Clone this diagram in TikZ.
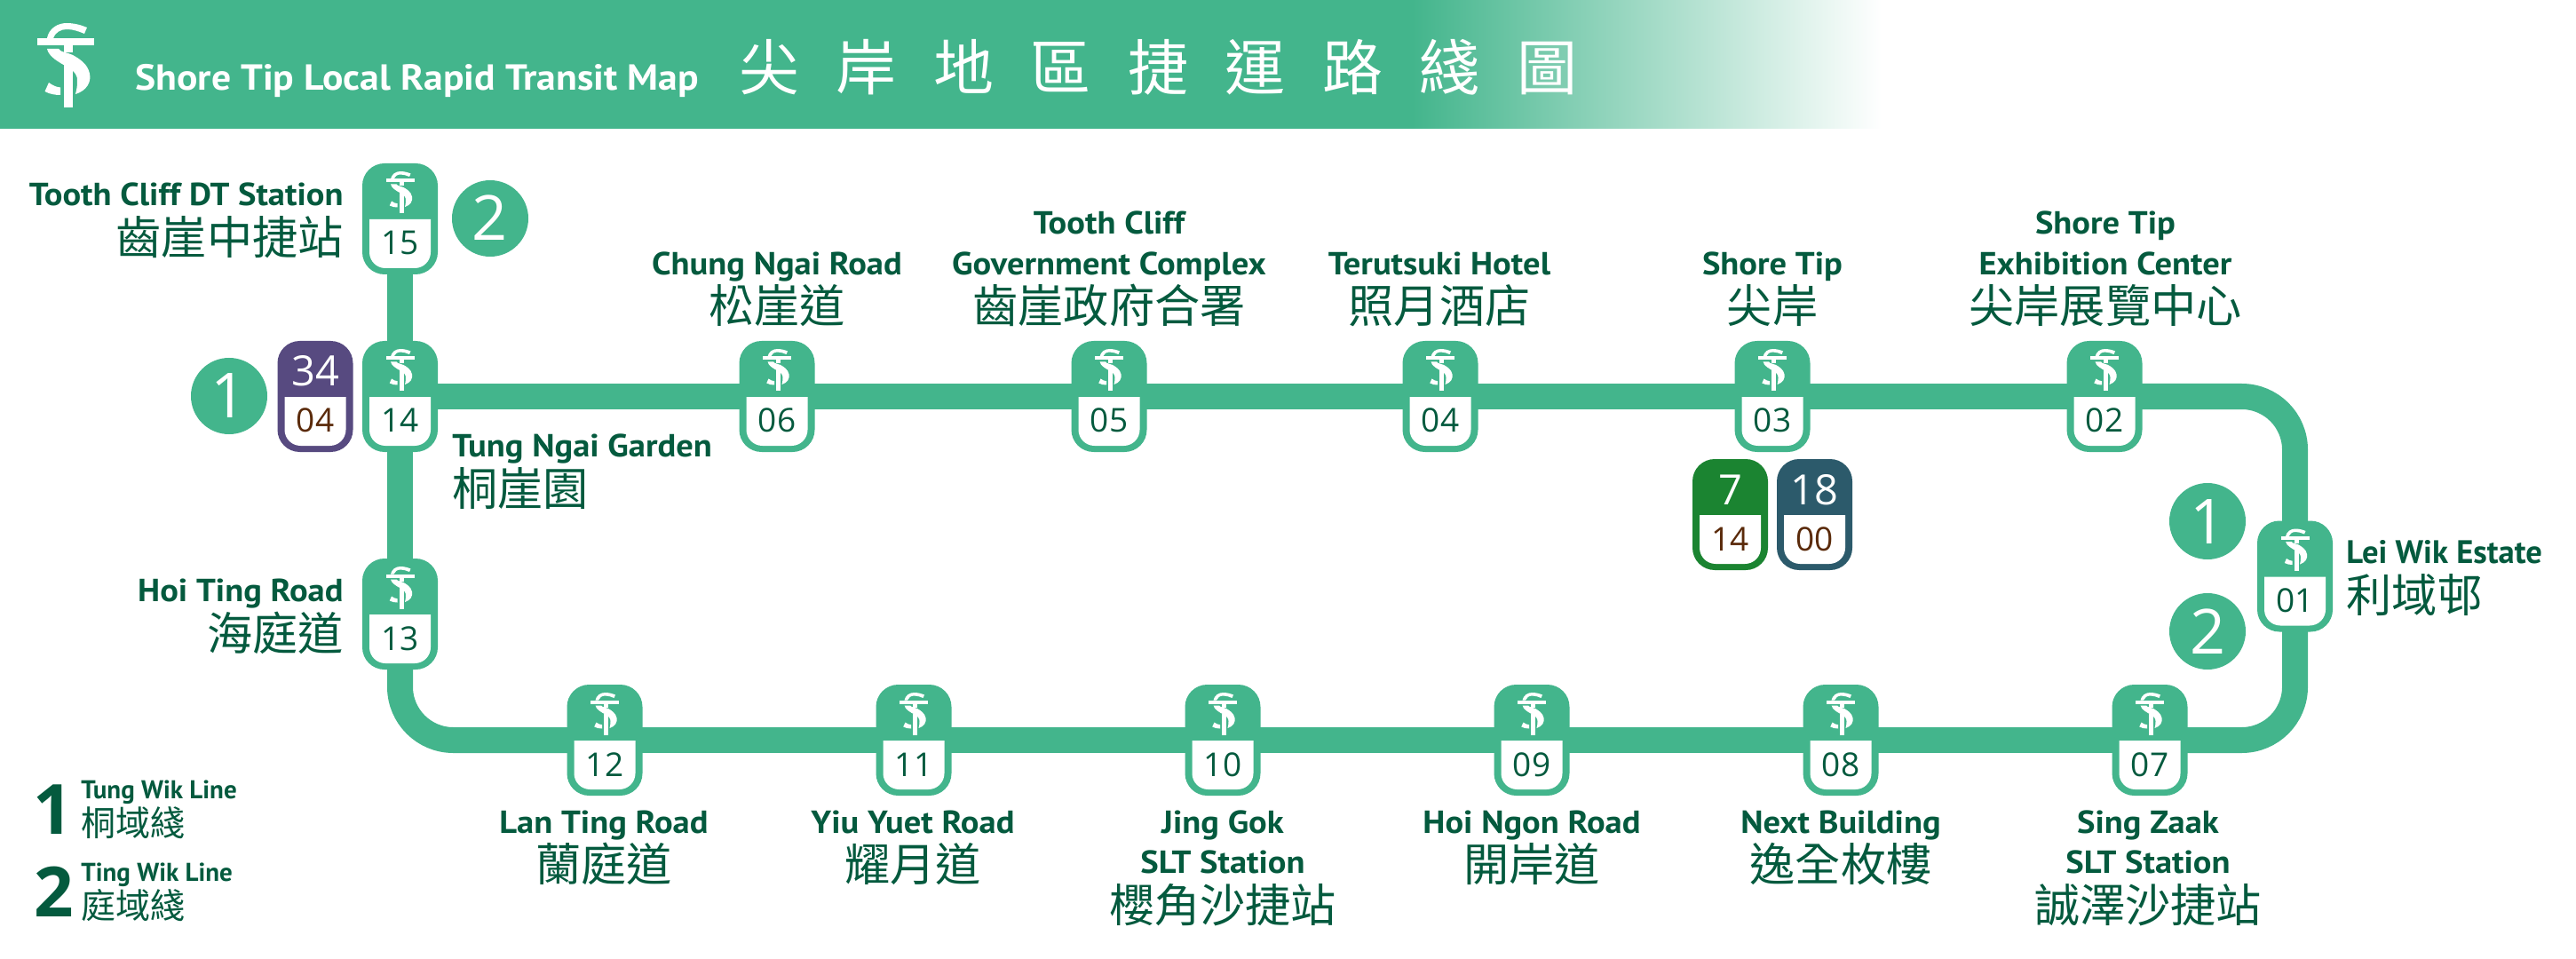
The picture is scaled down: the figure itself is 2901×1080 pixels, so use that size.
\documentclass[tikz,border=0pt]{standalone}
\usepackage{fontspec}
\usetikzlibrary{backgrounds}
\setmainfont{PT Sans}
\newfontfamily\numfont{Open Sans}
\newfontfamily\enfont{PT Sans}[BoldFont={PT Sans Bold},BoldFeatures={FakeStretch=1.07}]
\newfontfamily\ensmfont{PT Sans}[BoldFont={PT Sans Bold}]
\newfontfamily\zhfont{Noto Sans CJK TC}
\newfontfamily\zhtitle[LetterSpace=61]{Noto Sans CJK TC}
\definecolor{lineg}{HTML}{43B58C}
\definecolor{darkg}{HTML}{045A3E}
\definecolor{brownn}{HTML}{5A2A0A}
\definecolor{purp}{HTML}{574A80}
\definecolor{greenb}{HTML}{1B8431}
\definecolor{tealb}{HTML}{2C5A6B}
\newcommand{\fs}[1]{\fontsize{#1}{#1}\selectfont}
\tikzset{
  railline/.style={draw=lineg,line width=14.5pt,line cap=butt},
  boxnode/.style={minimum width=42.5pt,minimum height=62.5pt,rounded corners=12.5pt,inner sep=0pt,fill=#1},
  numt/.style={inner sep=0pt,anchor=base,font=\numfont\fs{18.5},text=#1},
  topt/.style={inner sep=0pt,anchor=base,font=\numfont\fs{23.5},text=white},
  circ/.style={circle,fill=lineg,minimum size=43pt,inner sep=0pt},
  circt/.style={inner sep=0pt,anchor=base,font=\numfont\fs{35},text=white},
  en/.style={inner sep=0pt,text=darkg,font=\enfont\bfseries\fs{18}},
  zh/.style={inner sep=0pt,text=darkg,font=\zhfont\fs{25.6}},
  ensm/.style={inner sep=0pt,text=darkg,font=\ensmfont\bfseries\fs{14.5}},
  zhsm/.style={inner sep=0pt,text=darkg,font=\zhfont\fs{19.5}},
  legnum/.style={inner sep=0pt,anchor=base,text=darkg,font=\numfont\bfseries\fs{39}},
  logo/.pic={
    \fill[white] (-32,17) rectangle (32,25);
    \fill[white] (-2,25) rectangle (8,33);
    \fill[white] (-2,47) rectangle (8,95);
    \fill[white] (-21,17) .. controls (-19,6) and (-9,0) .. (1,0) .. controls (9,0) and (17,2) .. (24,5) -- (21,12) .. controls (14,9) and (8,7) .. (1,7) .. controls (-6,7) and (-12,11) .. (-14,17) -- cycle;
    \fill[white] (-21,29) .. controls (-19,38) and (-8,44) .. (3,50) .. controls (10,54) and (14,60) .. (13,66) .. controls (13,72) and (12,76) .. (11,80) .. controls (24,76) and (29,66) .. (27,57) .. controls (25,46) and (15,40) .. (8,36) .. controls (2,33) and (-6,33) .. (-8,29) -- cycle;
    \fill[white] (-19,67) -- (-23.5,77) .. controls (-18,80) and (-12,81) .. (-6,81) -- (-6,72.5) .. controls (-11,72) and (-15,70) .. (-19,67) -- cycle;
  }
}
% white number plate, relative to a box centre
\newcommand{\plate}[2]{%
  \fill[white] ([shift={(-34.5,.5)}]#1.center) -- ([shift={(34.5,.5)}]#1.center)
    {[rounded corners=9pt] -- ([shift={(34.5,55.5)}]#1.center) -- ([shift={(-34.5,55.5)}]#1.center)} -- cycle;
}
% name, x, centre y, number
\newcommand{\station}[4]{%
  \node[boxnode=lineg] (#1) at (#2,#3) {};
  \plate{#1}{}
  \pic[scale=.5] at ([shift={(0,-53.5)}]#1.center) {logo};
  \node[numt=darkg] (#1n) at ([shift={(0,40.5)}]#1.center) {#4};
}
% name, x, centre y, colour, top, number
\newcommand{\xfer}[6]{%
  \node[boxnode=#4] (#1) at (#2,#3) {};
  \plate{#1}{}
  \node[topt] (#1t) at ([shift={(0,-11.5)}]#1.center) {#5};
  \node[numt=brownn] (#1n) at ([shift={(0,40.5)}]#1.center) {#6};
}
\newcommand{\linecirc}[4]{%
  \node[circ] (#1) at (#2,#3) {};
  \node[circt] (#1t) at ([shift={(0,25)}]#1.center) {#4};
}
\begin{document}
\begin{tikzpicture}[x=.5pt,y=-.5pt]
\useasboundingbox (0,0) rectangle (2901,1080);
% header
\fill[lineg] (0,0) rectangle (1590,145);
\shade[left color=lineg,right color=white] (1590,0) rectangle (2119,145);
\pic at (74,26) {logo};
\node[inner sep=0pt,anchor=base west,text=white,font=\enfont\bfseries\fs{20.4}] (title) at (152,102) {Shore Tip Local Rapid Transit Map};
\node[inner sep=0pt,anchor=base west,text=white,font=\zhtitle\fs{34}] (titlezh) at (832,102) {尖岸地區捷運路綫圖};
% stations
\station{s15}{450.5}{246.5}{15}
\station{s14}{450.5}{446.5}{14}
\station{s13}{450.5}{691.5}{13}
\station{s06}{875}{446.5}{06}
\station{s05}{1249}{446.5}{05}
\station{s04}{1622}{446.5}{04}
\station{s03}{1996}{446.5}{03}
\station{s02}{2370}{446.5}{02}
\station{s01}{2584.5}{649}{01}
\station{s12}{681}{833.5}{12}
\station{s11}{1029}{833.5}{11}
\station{s10}{1377}{833.5}{10}
\station{s09}{1725}{833.5}{09}
\station{s08}{2073}{833.5}{08}
\station{s07}{2421}{833.5}{07}
% connectors
\begin{scope}[on background layer]
\fill[white] (0,145) rectangle (2901,1080);
\fill[white] (2119,0) rectangle (2901,145);
\draw[railline] (s15.center) -- (s14.center);
\draw[railline] (s14.center) -- (s13.center);
\draw[railline] (s14.center) -- (s06.center);
\draw[railline] (s06.center) -- (s05.center);
\draw[railline] (s05.center) -- (s04.center);
\draw[railline] (s04.center) -- (s03.center);
\draw[railline] (s03.center) -- (s02.center);
\draw[railline,rounded corners=30pt] (s02.center) -| (s01.center);
\draw[railline,rounded corners=30pt] (s01.center) |- (s07.center);
\draw[railline] (s07.center) -- (s08.center);
\draw[railline] (s08.center) -- (s09.center);
\draw[railline] (s09.center) -- (s10.center);
\draw[railline] (s10.center) -- (s11.center);
\draw[railline] (s11.center) -- (s12.center);
\draw[railline,rounded corners=30pt] (s12.center) -| (s13.center);
\end{scope}
% transfer boxes
\xfer{x34}{355}{446.5}{purp}{34}{04}
\xfer{x7}{1948.5}{579.5}{greenb}{7}{14}
\xfer{x18}{2043.5}{579.5}{tealb}{18}{00}
% line circles
\linecirc{c1a}{258}{446}{1}
\linecirc{c2a}{552}{246}{2}
\linecirc{c1b}{2486}{587}{1}
\linecirc{c2b}{2486}{711}{2}
% labels: left
\node[en,anchor=base east] (l15a) at (387,232) {Tooth Cliff DT Station};
\node[zh,anchor=base east] (l15b) at (387,287) {齒崖中捷站};
\node[en,anchor=base east] (l13a) at (387,677) {Hoi Ting Road};
\node[zh,anchor=base east] (l13b) at (387,732) {海庭道};
\node[en,anchor=base west] (l14a) at (509,514) {Tung Ngai Garden};
\node[zh,anchor=base west] (l14b) at (509,569) {桐崖園};
\node[ensm,font=\ensmfont\bfseries\fs{18.3},anchor=base west] (l01a) at (2642,634) {Lei Wik Estate};
\node[zh,anchor=base west] (l01b) at (2642,689) {利域邨};
% labels: top row
\node[en,anchor=base] (l06a) at (875,310) {Chung Ngai Road};
\node[zh,anchor=base] (l06b) at (875,364) {松崖道};
\node[en,anchor=base] (l05a) at (1249,264) {Tooth Cliff};
\node[en,anchor=base] (l05b) at (1249,310) {Government Complex};
\node[zh,anchor=base] (l05c) at (1249,364) {齒崖政府合署};
\node[en,anchor=base] (l04a) at (1621,310) {Terutsuki Hotel};
\node[zh,anchor=base] (l04b) at (1621,364) {照月酒店};
\node[en,anchor=base] (l03a) at (1996,310) {Shore Tip};
\node[zh,anchor=base] (l03b) at (1996,364) {尖岸};
\node[en,anchor=base] (l02a) at (2371,264) {Shore Tip};
\node[en,anchor=base] (l02b) at (2371,310) {Exhibition Center};
\node[zh,anchor=base] (l02c) at (2371,364) {尖岸展覽中心};
% labels: bottom row
\node[en,anchor=base] (l12a) at (680,938) {Lan Ting Road};
\node[zh,anchor=base] (l12b) at (680,992) {蘭庭道};
\node[en,anchor=base] (l11a) at (1028,938) {Yiu Yuet Road};
\node[zh,anchor=base] (l11b) at (1028,992) {耀月道};
\node[en,anchor=base] (l10a) at (1377,938) {Jing Gok};
\node[en,anchor=base] (l10b) at (1377,983) {SLT Station};
\node[zh,anchor=base] (l10c) at (1377,1038) {櫻角沙捷站};
\node[en,anchor=base] (l09a) at (1725,938) {Hoi Ngon Road};
\node[zh,anchor=base] (l09b) at (1725,992) {開岸道};
\node[en,anchor=base] (l08a) at (2073,938) {Next Building};
\node[zh,anchor=base] (l08b) at (2073,992) {逸全枚樓};
\node[en,anchor=base] (l07a) at (2419,938) {Sing Zaak};
\node[en,anchor=base] (l07b) at (2419,983) {SLT Station};
\node[zh,anchor=base] (l07c) at (2419,1038) {誠澤沙捷站};
% legend
\node[legnum] (leg1) at (60,939) {1};
\node[ensm,anchor=base west] (leg1a) at (91,899) {Tung Wik Line};
\node[zhsm,anchor=base west] (leg1b) at (91,941) {桐域綫};
\node[legnum] (leg2) at (61,1032) {2};
\node[ensm,anchor=base west] (leg2a) at (91,992) {Ting Wik Line};
\node[zhsm,anchor=base west] (leg2b) at (91,1034) {庭域綫};
\end{tikzpicture}
\end{document}
